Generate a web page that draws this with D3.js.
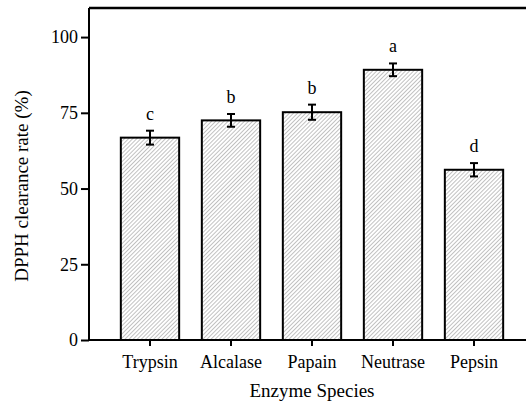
<!DOCTYPE html>
<html>
<head>
<meta charset="utf-8">
<script src="https://cdn.jsdelivr.net/npm/d3@7"></script>
<style>
  body { margin: 0; background: #fff; }
  svg { display: block; font-family: "Liberation Serif", "Times New Roman", serif; }
</style>
</head>
<body>
<svg id="chart" width="526" height="403"></svg>
<script>
const enzymes = ["Trypsin", "Alcalase", "Papain", "Neutrase", "Pepsin"];
const clearance = [66.8, 72.5, 75.2, 89.2, 56.2];
const errors = [2.3, 2.1, 2.5, 2.1, 2.2];
const groups = ["c", "b", "b", "a", "d"];
const yTicks = [0, 25, 50, 75, 100];

const svg = d3.select("#chart");
const plotLeft = 89, plotRight = 535, plotTop = 8, plotBottom = 340;

const x = d3.scaleBand()
            .domain(enzymes)
            .range([plotLeft, plotRight])
            .paddingInner(0.28)
            .paddingOuter(0.393);

const y = d3.scaleLinear()
            .domain([0, 109.6])
            .range([plotBottom, plotTop]);

// hatch pattern
const defs = svg.append("defs");
const pat = defs.append("pattern")
                .attr("id", "hatch")
                .attr("patternUnits", "userSpaceOnUse")
                .attr("width", 2.9)
                .attr("height", 2.9)
                .attr("patternTransform", "rotate(45)");
pat.append("rect").attr("width", 2.9).attr("height", 2.9).attr("fill", "#fff");
pat.append("line")
   .attr("x1", 0).attr("y1", 0).attr("x2", 0).attr("y2", 2.9)
   .attr("stroke", "#666")
   .attr("stroke-width", 0.8);

const data = enzymes.map((e, i) => ({name: e, v: clearance[i], err: errors[i], g: groups[i]}));

// bars
svg.selectAll(".bar")
   .data(data)
   .enter()
   .append("rect")
   .attr("class", "bar")
   .attr("x", d => x(d.name))
   .attr("y", d => y(d.v))
   .attr("width", x.bandwidth())
   .attr("height", d => y(0) - y(d.v))
   .attr("fill", "url(#hatch)")
   .attr("stroke", "#000")
   .attr("stroke-width", 2);

// error bars
const eb = svg.selectAll(".err")
              .data(data)
              .enter()
              .append("g")
              .attr("class", "err")
              .attr("stroke", "#000")
              .attr("stroke-width", 2);
const cx = d => x(d.name) + x.bandwidth() / 2;
eb.append("line")
  .attr("x1", cx).attr("x2", cx)
  .attr("y1", d => y(d.v + d.err)).attr("y2", d => y(d.v - d.err));
eb.append("line")
  .attr("x1", d => cx(d) - 4).attr("x2", d => cx(d) + 4)
  .attr("y1", d => y(d.v + d.err)).attr("y2", d => y(d.v + d.err));
eb.append("line")
  .attr("x1", d => cx(d) - 4).attr("x2", d => cx(d) + 4)
  .attr("y1", d => y(d.v - d.err)).attr("y2", d => y(d.v - d.err));

// significance letters
svg.selectAll(".sig")
   .data(data)
   .enter()
   .append("text")
   .attr("class", "sig")
   .attr("x", cx)
   .attr("y", d => y(d.v + d.err) - 11)
   .attr("text-anchor", "middle")
   .style("font-size", "18px")
   .text(d => d.g);

// axes
const yAxis = svg.append("g")
                 .attr("transform", `translate(${plotLeft},0)`)
                 .call(d3.axisLeft(y).tickValues(yTicks).tickSize(8).tickPadding(3));
const xAxis = svg.append("g")
                 .attr("transform", `translate(0,${plotBottom})`)
                 .call(d3.axisBottom(x).tickSize(6).tickPadding(9));

[yAxis, xAxis].forEach(a => {
  a.select(".domain").remove();
  a.selectAll("line").attr("stroke", "#000").attr("stroke-width", 2);
  a.selectAll("text")
   .style("font-family", "'Liberation Serif', 'Times New Roman', serif")
   .style("font-size", "18px")
   .attr("fill", "#000");
});

// frame lines
svg.append("line")
   .attr("x1", plotLeft).attr("x2", plotRight)
   .attr("y1", plotBottom).attr("y2", plotBottom)
   .attr("stroke", "#000").attr("stroke-width", 2);
svg.append("line")
   .attr("x1", plotLeft).attr("x2", plotLeft)
   .attr("y1", plotTop).attr("y2", plotBottom)
   .attr("stroke", "#000").attr("stroke-width", 2);
svg.append("line")
   .attr("x1", plotLeft).attr("x2", plotRight)
   .attr("y1", plotTop).attr("y2", plotTop)
   .attr("stroke", "#000").attr("stroke-width", 2.5);

// axis titles
svg.append("text")
   .attr("x", (plotLeft + plotRight) / 2)
   .attr("y", 397)
   .attr("text-anchor", "middle")
   .style("font-size", "19px")
   .text("Enzyme Species");

svg.append("text")
   .attr("transform", "translate(28,186) rotate(-90)")
   .attr("text-anchor", "middle")
   .style("font-size", "19px")
   .text("DPPH clearance rate (%)");
</script>
</body>
</html>
